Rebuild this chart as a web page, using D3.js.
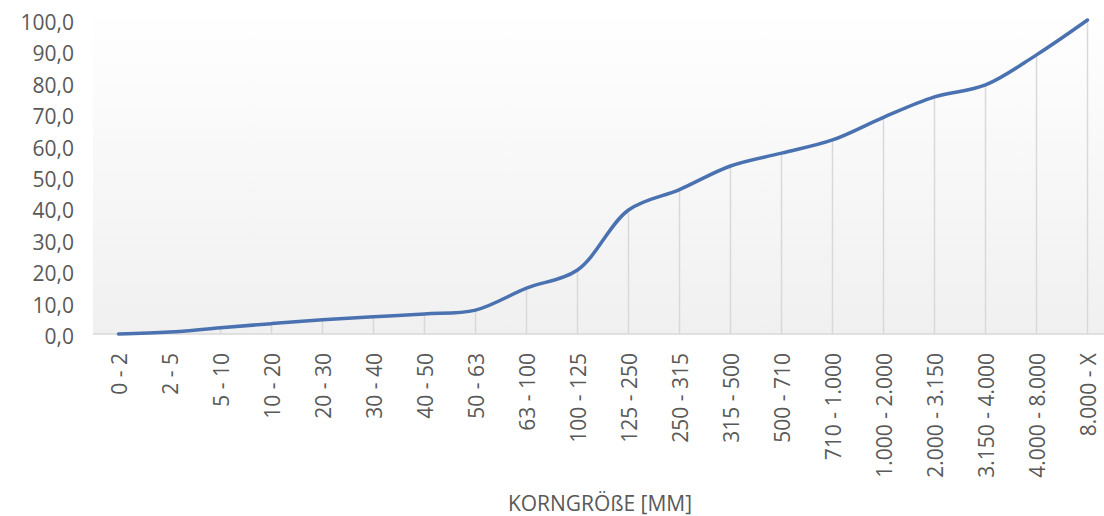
<!DOCTYPE html>
<html>
<head>
<meta charset="utf-8">
<script src="https://cdn.jsdelivr.net/npm/d3@7"></script>
<style>
  body { margin:0; background:#fff; }
  svg text { font-family: "Open Sans", "Noto Sans", sans-serif; fill:#595959; }
</style>
</head>
<body>
<div id="chart"></div>
<script>
// Korngrößen-Klassen und Summenkurve (%)
const categories = ["0 - 2","2 - 5","5 - 10","10 - 20","20 - 30","30 - 40","40 - 50","50 - 63",
  "63 - 100","100 - 125","125 - 250","250 - 315","315 - 500","500 - 710","710 - 1.000",
  "1.000 - 2.000","2.000 - 3.150","3.150 - 4.000","4.000 - 8.000","8.000 - X"];
const values = [0.0, 0.6, 2.0, 3.3, 4.5, 5.5, 6.4, 7.6, 14.6, 20.4, 39.5, 46.0, 53.5, 57.6, 61.8,
  69.0, 75.5, 79.3, 88.9, 100.0];
const yTicks = [0,10,20,30,40,50,60,70,80,90,100];
const xTitle = "KORNGRÖßE [MM]";

const W = 1104, H = 516;
const plot = {left:93, right:1113, top:20, bottom:334};

const svg = d3.select("#chart").append("svg")
  .attr("width", W).attr("height", H);

const x = d3.scalePoint().domain(categories).range([plot.left, plot.right]).padding(0.5);
const y = d3.scaleLinear().domain([0,100]).range([plot.bottom, plot.top]);

// leichter Verlauf im Plotbereich
const grad = svg.append("defs").append("linearGradient")
  .attr("id","bg").attr("x1",0).attr("y1",0).attr("x2",0).attr("y2",1);
grad.append("stop").attr("offset","0%").attr("stop-color","#ffffff");
grad.append("stop").attr("offset","100%").attr("stop-color","#f0f0f0");
svg.append("rect")
  .attr("x", plot.left).attr("y", plot.top - 12)
  .attr("width", plot.right - plot.left).attr("height", plot.bottom - plot.top + 12)
  .attr("fill","url(#bg)");

// Lotlinien
svg.selectAll(".drop")
  .data(values)
  .enter().append("line")
  .attr("class","drop")
  .attr("x1",(d,i)=>x(categories[i])).attr("x2",(d,i)=>x(categories[i]))
  .attr("y1",d=>y(d)).attr("y2",plot.bottom)
  .attr("stroke","#d9d9d9").attr("stroke-width",1.5);

// x-Achse
const xAxis = svg.append("g")
  .attr("transform",`translate(0,${plot.bottom})`)
  .style("color","#595959")
  .call(d3.axisBottom(x).tickSize(0).tickPadding(0));
xAxis.select(".domain").attr("stroke","#d9d9d9").attr("stroke-width",1.5)
  .attr("d",`M${plot.left},0H${plot.right}`);
xAxis.selectAll("text")
  .attr("transform","rotate(-90)")
  .attr("x",-19).attr("y",0).attr("dy","0.36em")
  .style("text-anchor","end")
  .style("font-size","21px");

// y-Achse
const yAxis = svg.append("g")
  .attr("transform",`translate(${plot.left},0)`)
  .style("color","#595959")
  .call(d3.axisLeft(y).tickValues(yTicks).tickSize(0).tickPadding(19)
    .tickFormat(d=>d3.format(".1f")(d).replace(".",",")));
yAxis.select(".domain").remove();
yAxis.selectAll("text").attr("dy","0.45em").style("font-size","21px");

// Summenlinie
const line = d3.line()
  .x((d,i)=>x(categories[i]))
  .y(d=>y(d))
  .curve(d3.curveCatmullRom.alpha(0.5));
svg.append("path")
  .datum(values)
  .attr("d", line)
  .attr("fill","none")
  .attr("stroke","#4a72b0")
  .attr("stroke-width",3.5)
  .attr("stroke-linecap","round");

svg.append("text")
  .attr("x",600).attr("y",511)
  .attr("text-anchor","middle")
  .style("font-size","21px")
  .text(xTitle);
</script>
</body>
</html>
